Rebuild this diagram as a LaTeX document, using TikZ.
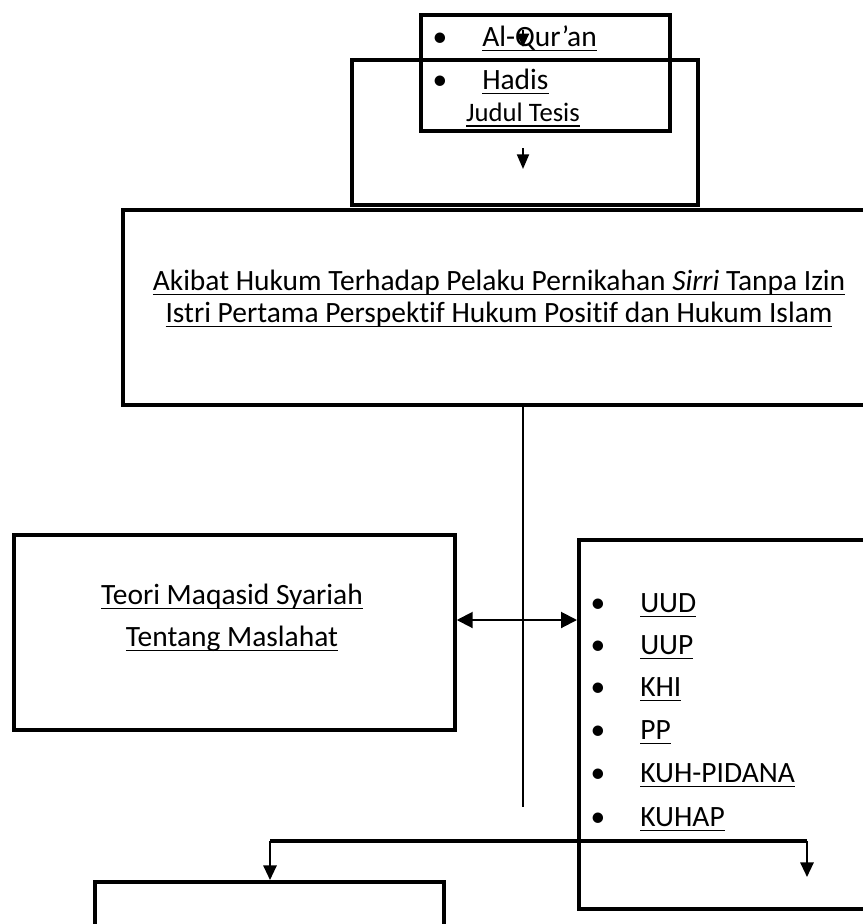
\documentclass[tikz,border=0pt]{standalone}
\usepackage{fontspec}
\setmainfont{Carlito}[Ligatures=NoCommon]
\usetikzlibrary{arrows.meta}
\newcommand\ulx[1]{\setbox0\hbox{#1}\leavevmode\rlap{\rule[-3.6pt]{\wd0}{1.1pt}}\box0}
\tikzset{
  frame/.style={draw, line width=2.8pt, inner sep=0pt, anchor=north west},
  sz/.style 2 args={minimum width=#1*0.75pt, minimum height=#2*0.75pt},
  txt/.style={inner sep=0pt, font=\fontsize{22.1}{26}\selectfont},
  lbl/.style={txt, anchor=base west},
  ctr/.style={txt, anchor=base},
  thinline/.style={line width=1.5pt},
  thickline/.style={line width=2.6pt},
  headB/.style={-{Triangle[length=11pt,width=10pt]}},
  dbl/.style={{Triangle[length=12pt,width=12pt]}-{Triangle[length=12pt,width=12pt]}}
}
\begin{document}
\begin{tikzpicture}[x=0.75pt,y=-0.75pt]
\useasboundingbox (0,0) rectangle (863,924);
\clip (0,0) rectangle (863,924);
% boxes
\node[frame, sz={249}{116}] (src) at (419,13) {};
\node[frame, sz={346}{145}] (judul) at (350,58) {};
\node[frame, sz={760}{195}] (titlebox) at (121,208) {};
\node[frame, sz={441}{195}] (leftbox) at (12,533) {};
\node[frame, sz={300}{369}] (rightbox) at (577,538) {};
\node[frame, sz={349}{80}] (bottombox) at (93,880) {};
% top texts
\node[ctr] (b1) at (440,46.5) {•};
\node[lbl] (t1) at (482,46.5) {\ulx{Al-Qur’an}};
\node[ctr] (b2) at (440,89.5) {•};
\node[lbl] (t2) at (482,89.5) {\ulx{Hadis}};
\node[ctr, font=\fontsize{20}{24}\selectfont] (jt) at (523,122) {\ulx{Judul Tesis}};
% title
\node[ctr] (title1) at (499,290.5) {\ulx{Akibat Hukum Terhadap Pelaku Pernikahan \textit{Sirri} Tanpa Izin}};
\node[ctr] (title2) at (499,322.5) {\ulx{Istri Pertama Perspektif Hukum Positif dan Hukum Islam}};
% left box text
\node[ctr] (l1) at (232,604.5) {\ulx{Teori Maqasid Syariah}};
\node[ctr] (l2) at (232,646.5) {\ulx{Tentang Maslahat}};
% right list
\foreach \n/\t/\y in {r1/UUD/612.5, r2/UUP/654.5, r3/KHI/696.5, r4/PP/739.5, r5/KUH-PIDANA/782.5, r6/KUHAP/826.5}{
  \node[ctr] (\n b) at (598,\y) {•};
  \node[lbl] (\n) at (640,\y) {\ulx{\t}};
}
% connectors
\coordinate (qa) at (523,30);
\coordinate (qb) at (523,47);
\draw[thinline, -{Triangle[length=10pt,width=9pt]}] (qa) -- (qb);
\coordinate (sa) at (523,148);
\coordinate (sb) at (523,169);
\draw[thinline, -{Triangle[length=11pt,width=9pt]}] (sa) -- (sb);
\coordinate (vend) at (523,807);
\draw[thinline] (titlebox.south -| vend) -- (vend);
\coordinate (da) at (0,620);
\draw[thinline, dbl] (leftbox.east |- da) -- (rightbox.west |- da);
\coordinate (bl) at (270,841);
\coordinate (br) at (807,841);
\coordinate (brend) at (807,877);
\draw[thickline] (bl) -- (br);
\draw[thinline, headB] (bl) -- (bottombox.north -| bl);
\draw[thinline, headB] (br) -- (brend);
\end{tikzpicture}
\end{document}
